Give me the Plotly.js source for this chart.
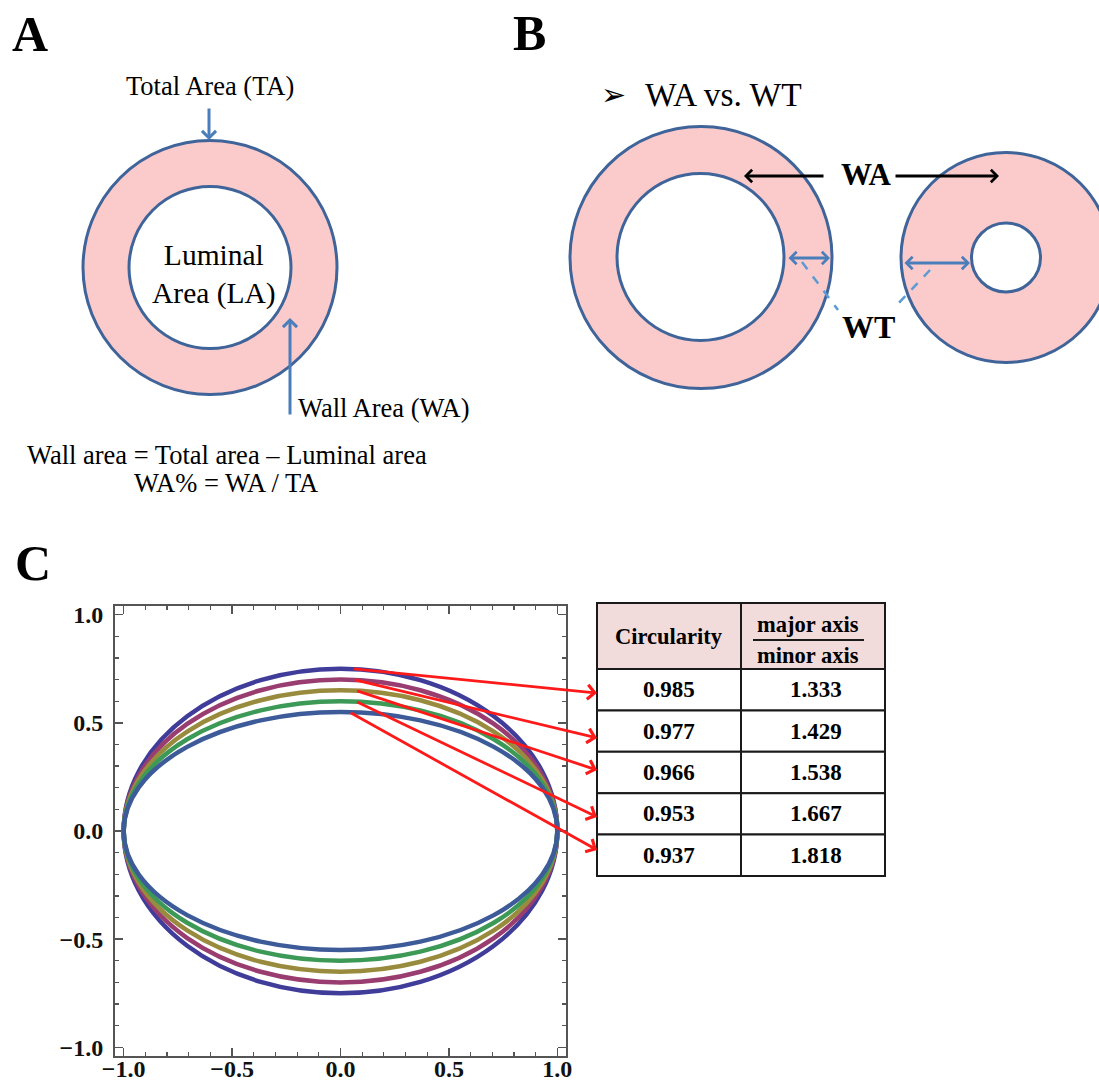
<!DOCTYPE html>
<html>
<head>
<meta charset="utf-8">
<script src="https://cdn.plot.ly/plotly-3.0.1.min.js"></script>
<style>html,body{margin:0;padding:0;background:#fff;}#chart{width:1099px;height:1086px;}</style>
</head>
<body>
<div id="chart"></div>
<script>
// ---------- data (panel C) ----------
const circularity = [0.985, 0.977, 0.966, 0.953, 0.937];
const axisRatio   = [1.333, 1.429, 1.538, 1.667, 1.818];   // major axis / minor axis
const ellipseColors = ['#3f3d99', '#993d71', '#998b3d', '#3d9956', '#3d5a99'];
const tickValues = [-1, -0.5, 0, 0.5, 1];
const tickLabels = ['\u22121.0', '\u22120.5', '0.0', '0.5', '1.0'];
const tableHeader = ['Circularity', 'major axis', 'minor axis'];

// ---------- geometry helpers ----------
const W = 1099, H = 1086;
const px = x => x / W;
const py = y => 1 - y / H;
const SERIF = 'Liberation Serif, Times New Roman, serif';

// plot area of panel C (pixels)
const PL = 115, PR = 566, PT = 606, PB = 1056;
const RANGE = [-1.04, 1.04];
const dataX = p => RANGE[0] + (p - PL) / (PR - PL) * (RANGE[1] - RANGE[0]);
const dataY = p => RANGE[1] - (p - PT) / (PB - PT) * (RANGE[1] - RANGE[0]);

const shapes = [];
const annotations = [];

function circle(cx, cy, r, fill, color, width) {
  shapes.push({type: 'circle', xref: 'paper', yref: 'paper',
    x0: px(cx - r), x1: px(cx + r), y0: py(cy + r), y1: py(cy - r),
    fillcolor: fill, line: {color: color, width: width}});
}
function line(x1, y1, x2, y2, color, width, dash) {
  shapes.push({type: 'line', xref: 'paper', yref: 'paper',
    x0: px(x1), y0: py(y1), x1: px(x2), y1: py(y2),
    line: {color: color, width: width, dash: dash || 'solid'}});
}
function arrow(tx, ty, hx, hy, color, width, size, both) {
  annotations.push({xref: 'paper', yref: 'paper', x: px(hx), y: py(hy),
    axref: 'pixel', ayref: 'pixel', ax: tx - hx, ay: ty - hy, text: '',
    showarrow: true, arrowhead: 4, arrowsize: size, arrowwidth: width, arrowcolor: color,
    arrowside: both ? 'end+start' : 'end', startarrowhead: 4, startarrowsize: size,
    standoff: 0, startstandoff: 0});
}
function label(text, x, y, size, opts) {
  opts = opts || {};
  annotations.push({xref: 'paper', yref: 'paper', x: px(x), y: py(y), text: text,
    showarrow: false, xanchor: opts.xanchor || 'center', yanchor: 'middle',
    font: {family: opts.family || SERIF, size: size, color: opts.color || '#000', weight: opts.bold ? 'bold' : 'normal'}});
}

const PINK = '#fbcaca', RING = '#3f649a', BLUE = '#4a7ebb', LBLUE = '#5b9bd5';

// ---------- panel A ----------
label('A', 30, 34, 50, {bold: true});
circle(210, 267.5, 127, PINK, RING, 3);
circle(210, 267.5, 81, '#ffffff', RING, 3);
label('Total Area (TA)', 210, 86, 26.5);
arrow(209, 107, 209, 140, BLUE, 3, 0.9);
label('Luminal<br>Area (LA)', 214, 275, 29.5);
arrow(290, 416, 290, 318, BLUE, 3, 0.9);
label('Wall Area (WA)', 296, 408, 26.5, {xanchor: 'left'});
label('Wall area = Total area \u2013 Luminal area', 227, 455, 26.5);
label('WA% = WA / TA', 226, 483, 26.5);

// ---------- panel B ----------
label('B', 529, 33, 50, {bold: true});
label('\u27A2', 613, 95, 30, {family: 'DejaVu Sans'});
label('WA vs. WT', 643, 95, 33.5, {xanchor: 'left'});
circle(701, 257.5, 131, PINK, RING, 3);
circle(700.5, 257, 83.5, '#ffffff', RING, 3);
circle(1006, 257.5, 105, PINK, RING, 3);
circle(1006, 257.5, 34.5, '#ffffff', RING, 3);
label('WA', 866, 175, 31, {bold: true});
arrow(825, 176, 744, 176, '#000', 3, 0.8);
arrow(894, 176, 999, 176, '#000', 3, 0.8);
arrow(787, 258, 830, 258, BLUE, 3, 0.8, true);
arrow(903, 263, 970, 263, BLUE, 3, 0.8, true);
line(802, 262, 838, 310, LBLUE, 2.5, 'dash');
line(930, 270, 895, 307, LBLUE, 2.5, 'dash');
label('WT', 868, 327, 32, {bold: true});

// ---------- panel C ----------
label('C', 33, 563, 50, {bold: true});

// ellipses: semi-major axis 1, semi-minor axis 1/ratio
axisRatio.forEach((r, i) => {
  const b = 1 / r;
  shapes.push({type: 'circle', xref: 'x', yref: 'y', x0: -1, x1: 1, y0: -b, y1: b,
    line: {color: ellipseColors[i], width: 4.5}});
});

// table (pixels)
const TL = 597, TM = 741, TR = 885, TT = 603, HB = 669, ROWH = 41.4;
function rect(x0, y0, x1, y1, fill) {
  shapes.push({type: 'rect', xref: 'paper', yref: 'paper',
    x0: px(x0), x1: px(x1), y0: py(y1), y1: py(y0), fillcolor: fill,
    line: {color: '#1a1a1a', width: 2}});
}
rect(TL, TT, TM, HB, '#f2dcdb');
rect(TM, TT, TR, HB, '#f2dcdb');
label('<b>' + tableHeader[0] + '</b>', (TL + TM) / 2, 636, 22.5, {bold: true});
label('<b>' + tableHeader[1] + '</b>', 808, 624, 22.5, {bold: true});
label('<b>' + tableHeader[2] + '</b>', 808, 655, 22.5, {bold: true});
line(753, 640, 864, 640, '#1a1a1a', 2);
circularity.forEach((c, i) => {
  const y0 = HB + i * ROWH, y1 = y0 + ROWH;
  rect(TL, y0, TM, y1, '#ffffff');
  rect(TM, y0, TR, y1, '#ffffff');
  label('<b>' + c.toFixed(3) + '</b>', (TL + TM) / 2, (y0 + y1) / 2, 23, {bold: true});
  label('<b>' + axisRatio[i].toFixed(3) + '</b>', (TM + TR) / 2 + 3, (y0 + y1) / 2, 23, {bold: true});
});

// red arrows from the top of each ellipse to its table row
const tailX = [0.055, 0.06, 0.07, 0.07, 0.04];
const headPix = [693, 738, 770, 817, 850];
axisRatio.forEach((r, i) => {
  annotations.push({xref: 'x', yref: 'y', axref: 'x', ayref: 'y',
    x: dataX(597), y: dataY(headPix[i]), ax: tailX[i], ay: 1 / r, text: '',
    showarrow: true, arrowhead: 4, arrowsize: 1.0, arrowwidth: 2.8, arrowcolor: '#ff1a1a',
    standoff: 0});
});

const axisCommon = {
  range: RANGE, autorange: false, showgrid: false, zeroline: false,
  showline: true, linecolor: '#555', linewidth: 2, mirror: 'allticks',
  ticks: 'inside', ticklen: 8, tickwidth: 1.5, tickcolor: '#555',
  tickvals: tickValues, ticktext: tickLabels,
  tickfont: {family: SERIF, size: 24, color: '#111', weight: 'bold'},
  minor: {dtick: 0.1, tick0: 0, ticks: 'inside', ticklen: 4, tickwidth: 1.2, tickcolor: '#555'},
  fixedrange: true
};

const layout = {
  width: W, height: H, margin: {l: 0, r: 0, t: 0, b: 0},
  paper_bgcolor: '#fff', plot_bgcolor: '#fff', showlegend: false,
  font: {family: SERIF},
  xaxis: Object.assign({}, axisCommon, {domain: [px(PL), px(PR)], anchor: 'y', ticklabelstandoff: -10}),
  yaxis: Object.assign({}, axisCommon, {domain: [py(PB), py(PT)], anchor: 'x', ticklabelstandoff: 5}),
  shapes: shapes,
  annotations: annotations
};

const traces = [{type: 'scatter', x: [], y: [], mode: 'lines', hoverinfo: 'skip', showlegend: false}];

Plotly.newPlot('chart', traces, layout, {staticPlot: true, displayModeBar: false});
</script>
</body>
</html>
